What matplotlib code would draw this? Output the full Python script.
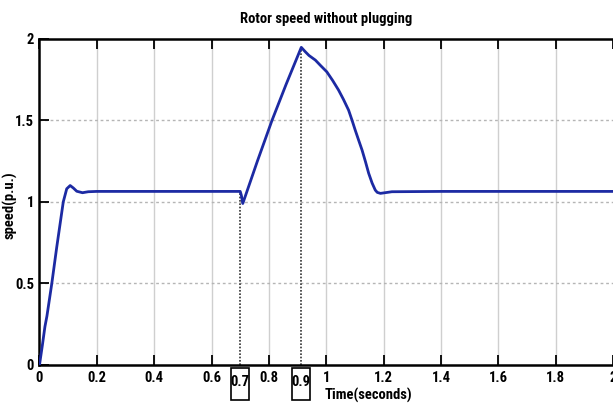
import numpy as np
import matplotlib
matplotlib.use("Agg")
from matplotlib import pyplot as plt
from matplotlib import font_manager
from matplotlib.patches import Rectangle
import matplotlib.transforms as mtransforms

names = set(f.name for f in font_manager.fontManager.ttflist)
narrow = [n for n in ["Liberation Sans Narrow", "DejaVu Sans Condensed", "Roboto Condensed"] if n in names]
plt.rcParams["font.family"] = narrow + ["Liberation Sans", "DejaVu Sans"]
plt.rcParams["font.weight"] = "bold"

# rotor speed (p.u.)
t = [0.0, 0.010, 0.019, 0.026, 0.043, 0.060, 0.083, 0.095, 0.107, 0.118,
     0.130, 0.150, 0.170, 0.200, 0.400, 0.600, 0.700, 0.704, 0.709, 0.760,
     0.811, 0.860, 0.913, 0.927, 0.940, 0.962, 0.980, 1.002, 1.022, 1.043,
     1.060, 1.078, 1.090, 1.101, 1.113, 1.125, 1.137, 1.148, 1.160, 1.171,
     1.178, 1.189, 1.229, 1.400, 1.600, 1.800, 2.000]
speed = [0.0, 0.12, 0.235, 0.30, 0.50, 0.72, 1.00, 1.08, 1.10, 1.085,
         1.065, 1.056, 1.062, 1.064, 1.064, 1.064, 1.064, 1.04, 0.99, 1.25,
         1.50, 1.72, 1.947, 1.920, 1.897, 1.869, 1.836, 1.797, 1.745, 1.685,
         1.628, 1.562, 1.500, 1.440, 1.378, 1.317, 1.245, 1.175, 1.115, 1.072,
         1.058, 1.052, 1.062, 1.064, 1.064, 1.064, 1.064]

xticks = [0, 0.2, 0.4, 0.6, 0.8, 1, 1.2, 1.4, 1.6, 1.8, 2]
xticklabels = ["0", "0.2", "0.4", "0.6", "0.8", "1", "1.2", "1.4", "1.6", "1.8", "2"]
yticks = [0, 0.5, 1, 1.5, 2]
yticklabels = ["0", "0.5", "1", "1.5", "2"]

# marked instants (plugging start, peak)
mark_t = [0.700, 0.913]
mark_v = [1.064, 1.947]
mark_lbl = ["0.7", "0.9"]

fs = 10.5 if narrow else 9.5

fig = plt.figure(figsize=(6.13, 4.05), dpi=100)
ax = fig.add_axes([0.0644, 0.0988, 0.9356, 0.8056])

ax.plot(t, speed, color="#1c2aa3", lw=2, zorder=3)

ax.set_xlim(0, 2)
ax.set_ylim(0, 2)
ax.set_xticks(xticks)
ax.set_xticklabels(xticklabels, fontsize=fs, fontweight="bold")
ax.set_yticks(yticks)
ax.set_yticklabels(yticklabels, fontsize=fs, fontweight="bold")
ax.tick_params(direction="in", length=7, width=1.3, top=True, right=False, pad=4)

for xv in xticks[1:-1]:
    ax.axvline(xv, color="#cfcfcf", lw=1, zorder=1)
for yv in yticks[1:-1]:
    ax.axhline(yv, color="#b5b5b5", lw=1, ls=(0, (2, 2)), zorder=1)

for s in ["left", "bottom", "top"]:
    ax.spines[s].set_linewidth(1.8)
ax.spines["right"].set_visible(False)

trans = mtransforms.blended_transform_factory(ax.transData, ax.transAxes)
for tm, vm, lb in zip(mark_t, mark_v, mark_lbl):
    ax.plot([tm, tm], [0, vm], color="#333333", lw=1.2, ls=(0, (1, 1)), zorder=2)
    ax.add_patch(Rectangle((tm - 0.031, -0.107), 0.062, 0.099, transform=trans,
                           fill=False, ec="black", lw=1.2, clip_on=False))
    ax.text(tm, -0.052, lb, transform=trans, ha="center", va="center",
            fontsize=fs, fontweight="bold")

ax.set_title("Rotor speed without plugging", fontsize=fs, fontweight="bold", pad=11)
ax.set_xlabel("Time(seconds)", fontsize=fs, fontweight="bold")
ax.xaxis.set_label_coords(0.574, -0.072)
ax.set_ylabel("speed(p.u.)", fontsize=fs, fontweight="bold")
ax.yaxis.set_label_coords(-0.038, 0.49)

fig.savefig("out.png", dpi=100)
